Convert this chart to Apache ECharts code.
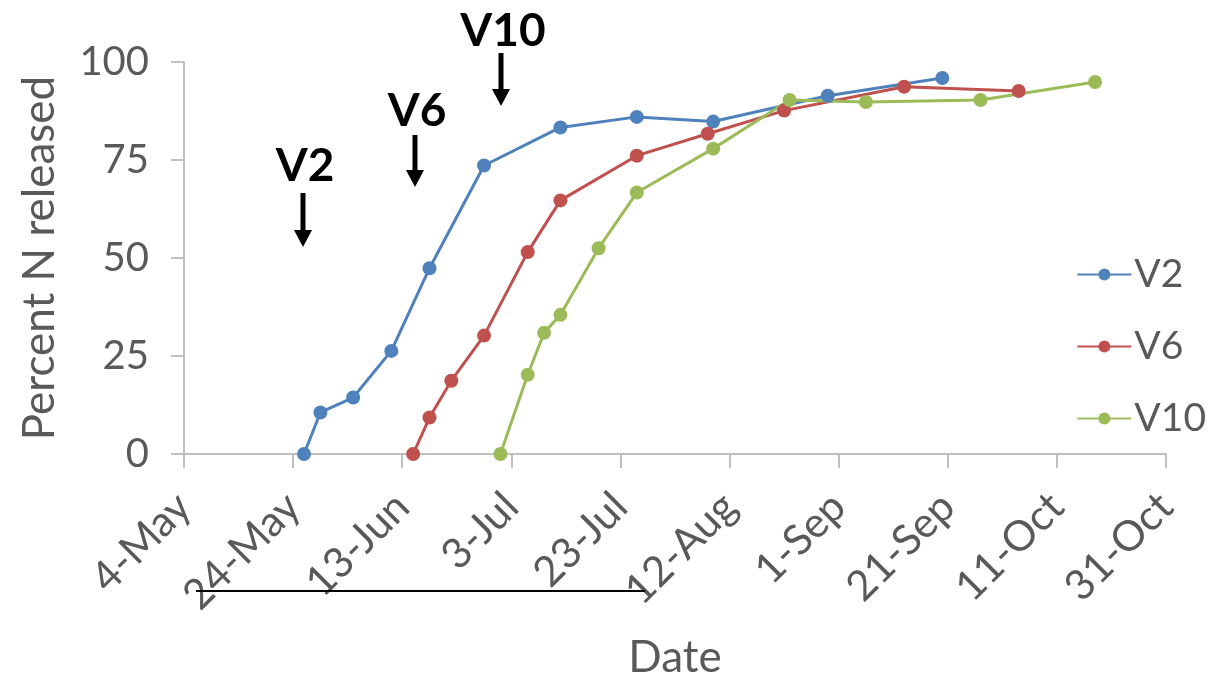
<!DOCTYPE html>
<html><head><meta charset="utf-8">
<script src="https://cdn.jsdelivr.net/npm/echarts@6/dist/echarts.min.js"></script>
<style>html,body{margin:0;padding:0;background:#fff}#c{width:1219px;height:685px}</style>
</head><body><div id="c"></div>
<script>
const START = '2014-05-04';
const tickLabels = ['4-May','24-May','13-Jun','3-Jul','23-Jul','12-Aug','1-Sep','21-Sep','11-Oct','31-Oct'];
const seriesNames = ['V2','V6','V10'];
const v2Dates = ['2014-05-26','2014-05-29','2014-06-04','2014-06-11','2014-06-18','2014-06-28','2014-07-12','2014-07-26','2014-08-09','2014-08-30','2014-09-20'];
const v2Values = [0,10.6,14.4,26.3,47.4,73.6,83.3,86.0,84.8,91.4,95.9];
const v6Dates = ['2014-06-15','2014-06-18','2014-06-22','2014-06-28','2014-07-06','2014-07-12','2014-07-26','2014-08-08','2014-08-22','2014-09-13','2014-10-04'];
const v6Values = [0,9.3,18.7,30.2,51.5,64.7,76.1,81.7,87.6,93.7,92.6];
const v10Dates = ['2014-07-01','2014-07-06','2014-07-09','2014-07-12','2014-07-19','2014-07-26','2014-08-09','2014-08-23','2014-09-06','2014-09-27','2014-10-18'];
const v10Values = [0,20.2,30.9,35.5,52.5,66.7,77.9,90.3,89.8,90.3,94.9];
const stageLabels = ['V2','V6','V10'];

const DAY = 86400000;
const t0 = Date.parse(START);
const toDay = s => Math.round((Date.parse(s) - t0) / DAY);
const pairs = (d, v) => d.map((s, i) => [toDay(s), v[i]]);

const colors = ['#4F81BD','#C0504D','#9BBB59'];
const allData = [pairs(v2Dates, v2Values), pairs(v6Dates, v6Values), pairs(v10Dates, v10Values)];
const font = 'Lato, "Open Sans", sans-serif';
const grey = '#595959';

const chart = echarts.init(document.getElementById('c'), null, {renderer:'canvas'});
const option = {
  animation: false,
  color: colors,
  grid: {left: 184, right: 53, top: 62, bottom: 229, containLabel: false},
  legend: {
    orient: 'vertical', right: 8, top: 250, itemGap: 33,
    itemWidth: 54, itemHeight: 15,
    textStyle: {fontFamily: font, fontSize: 39, color: grey, padding: [0,0,0,-2]},
    data: seriesNames
  },
  xAxis: {
    type: 'value', min: 0, max: 180, interval: 20,
    name: 'Date', nameLocation: 'middle', nameGap: 182,
    nameTextStyle: {fontFamily: font, fontSize: 44, color: grey},
    axisLine: {show: true, lineStyle: {color: '#BFBFBF', width: 2}},
    axisTick: {show: true, length: 14, lineStyle: {color: '#BFBFBF', width: 2}},
    splitLine: {show: false},
    axisLabel: {rotate: 45, margin: 46, fontFamily: font, fontSize: 42, color: grey,
      formatter: v => tickLabels[Math.round(v / 20)]}
  },
  yAxis: {
    type: 'value', min: 0, max: 100, interval: 25,
    name: 'Percent N released', nameLocation: 'middle', nameGap: 122, nameRotate: 90,
    nameTextStyle: {fontFamily: font, fontSize: 44, color: grey},
    axisLine: {show: true, lineStyle: {color: '#BFBFBF', width: 2}},
    axisTick: {show: true, length: 13, inside: false, lineStyle: {color: '#BFBFBF', width: 2}},
    splitLine: {show: false},
    axisLabel: {margin: 35, fontFamily: font, fontSize: 40, color: grey}
  },
  series: seriesNames.map((n, i) => ({
    name: n, type: 'line', data: allData[i],
    symbol: 'circle', symbolSize: 14,
    lineStyle: {width: 3, color: colors[i]},
    itemStyle: {color: colors[i]}
  }))
};
chart.setOption(option);

// stage annotations (bold label + downward arrow)
const annPix = [
  {x: 303, ty: 166, a1: 193, a2: 247},
  {x: 415, ty: 111, a1: 135, a2: 187},
  {x: 501, ty: 31, a1: 53, a2: 106}
];
const g = [];
annPix.forEach((a, i) => {
  g.push({type: 'text', z: 10, style: {text: stageLabels[i], x: a.x + 2, y: a.ty,
    font: 'bold 46px ' + font, fill: '#000', align: 'center', verticalAlign: 'middle'}});
  g.push({type: 'line', z: 10, shape: {x1: a.x, y1: a.a1, x2: a.x, y2: a.a2 - 14}, style: {stroke: '#000', lineWidth: 5}});
  g.push({type: 'polygon', z: 10, shape: {points: [[a.x - 9, a.a2 - 17], [a.x + 9, a.a2 - 17], [a.x, a.a2]]}, style: {fill: '#000'}});
});
g.push({type: 'line', z: 10, shape: {x1: 196, y1: 591, x2: 645, y2: 591}, style: {stroke: '#000', lineWidth: 2}});
chart.setOption({graphic: g});
</script>
</body></html>
